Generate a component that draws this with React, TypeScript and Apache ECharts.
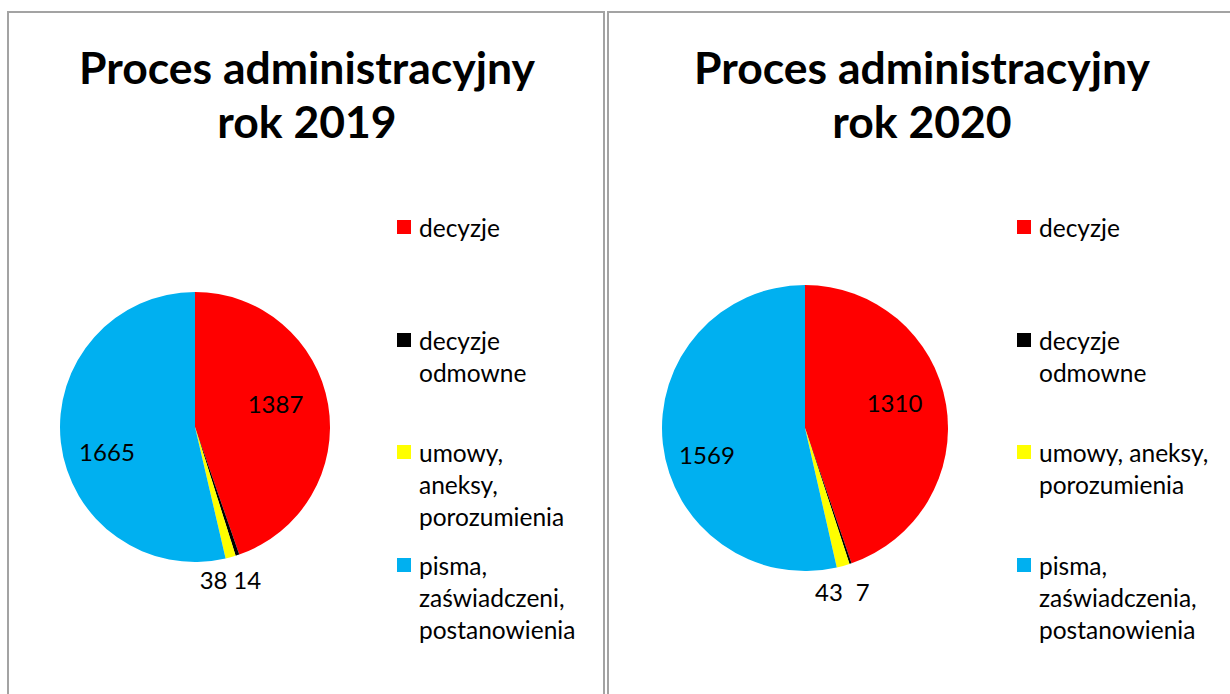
import React, { useEffect, useRef } from 'react';
import * as echarts from 'echarts';

// ---- data ----
const categories = [
  'decyzje',
  'decyzje odmowne',
  'umowy, aneksy, porozumienia',
  'pisma, zaświadczenia, postanowienia',
];
const values2019 = [1387, 14, 38, 1665];
const values2020 = [1310, 7, 43, 1569];
const titles = ['Proces administracyjny\nrok 2019', 'Proces administracyjny\nrok 2020'];
const legendLines2019 = [
  ['decyzje'],
  ['decyzje', 'odmowne'],
  ['umowy,', 'aneksy,', 'porozumienia'],
  ['pisma,', 'zaświadczeni,', 'postanowienia'],
];
const legendLines2020 = [
  ['decyzje'],
  ['decyzje', 'odmowne'],
  ['umowy, aneksy,', 'porozumienia'],
  ['pisma,', 'zaświadczenia,', 'postanowienia'],
];

// ---- style / layout ----
const colors = ['#FF0000', '#000000', '#FFFF00', '#00B0F0'];
const FONT = 'Lato, "Noto Sans", sans-serif';
const LEGEND_FS = 24.5;
const LABEL_FS = 24;
const LINE_H = 32;
const ICON = 14;
const ICON_BOX_W = 17; // square swatch plus a little blank room before the text
const iconTops = [220, 333, 445, 558];

const panels = [
  {
    values: values2019,
    title: titles[0],
    legendLines: legendLines2019,
    cx: 195, cy: 427, r: 135,
    titleX: 307,
    legendX: 397,
    labelShift: [[11, -12], [30, 86], [0, 85], [-18, 16]],
  },
  {
    values: values2020,
    title: titles[1],
    legendLines: legendLines2020,
    cx: 805, cy: 428, r: 143,
    titleX: 922,
    legendX: 1017,
    labelShift: [[16, -13], [34, 93], [4, 92], [-24, 18]],
  },
];

export default function App() {
  const ref = useRef<HTMLDivElement>(null);

  useEffect(() => {
    if (!ref.current) return;
    const chart = echarts.init(ref.current, null, { renderer: 'svg' });

    const legends: any[] = [];
    panels.forEach((p) => {
      categories.forEach((name, i) => {
        const lines = p.legendLines[i];
        const n = lines.length;
        // pad with empty lines above so that the first real line is centred on the icon
        const text = new Array(n - 1).fill('').concat(lines).join('\n');
        legends.push({
          data: [name],
          orient: 'vertical',
          left: p.legendX,
          top: iconTops[i] + ICON / 2 - ((2 * n - 1) * LINE_H) / 2,
          padding: 0,
          itemGap: 0,
          itemWidth: ICON_BOX_W,
          itemHeight: ICON,
          icon: `path://M0,0H${ICON}V${ICON}H0Z M${ICON_BOX_W},0L${ICON_BOX_W},0`,
          selectedMode: false,
          formatter: () => text,
          textStyle: {
            fontSize: LEGEND_FS,
            lineHeight: LINE_H,
            fontFamily: FONT,
            color: '#000',
          },
        });
      });
    });

    const option: any = {
      animation: false,
      backgroundColor: '#fff',
      title: panels.map((p) => ({
        text: p.title,
        left: p.titleX,
        top: 39,
        textAlign: 'center',
        padding: 0,
        textStyle: {
          fontSize: 44.5,
          fontWeight: 'bold',
          lineHeight: 54,
          fontFamily: FONT,
          color: '#000',
        },
      })),
      legend: legends,
      graphic: [
        {
          type: 'rect',
          shape: { x: 8, y: 12, width: 596, height: 720 },
          style: { fill: 'none', stroke: '#a3a3a3', lineWidth: 2 },
          silent: true,
        },
        {
          type: 'rect',
          shape: { x: 608, y: 12, width: 700, height: 720 },
          style: { fill: 'none', stroke: '#a3a3a3', lineWidth: 2 },
          silent: true,
        },
      ],
      series: panels.map((p) => ({
        type: 'pie',
        center: [p.cx, p.cy],
        radius: p.r,
        startAngle: 90,
        clockwise: true,
        data: categories.map((name, i) => ({
          name,
          value: p.values[i],
          itemStyle: { color: colors[i] },
        })),
        itemStyle: { borderWidth: 0 },
        label: {
          show: true,
          position: 'inside',
          formatter: '{c}',
          fontSize: LABEL_FS,
          fontFamily: FONT,
          color: '#000',
        },
        labelLine: { show: false },
        labelLayout: (params: any) => {
          const s = p.labelShift[params.dataIndex];
          return { dx: s[0], dy: s[1] };
        },
        emphasis: { disabled: true },
      })),
    };

    chart.setOption(option);
    return () => chart.dispose();
  }, []);

  return (
    <div
      ref={ref}
      style={{ position: 'absolute', left: 0, top: 0, width: 1230, height: 694 }}
    />
  );
}
